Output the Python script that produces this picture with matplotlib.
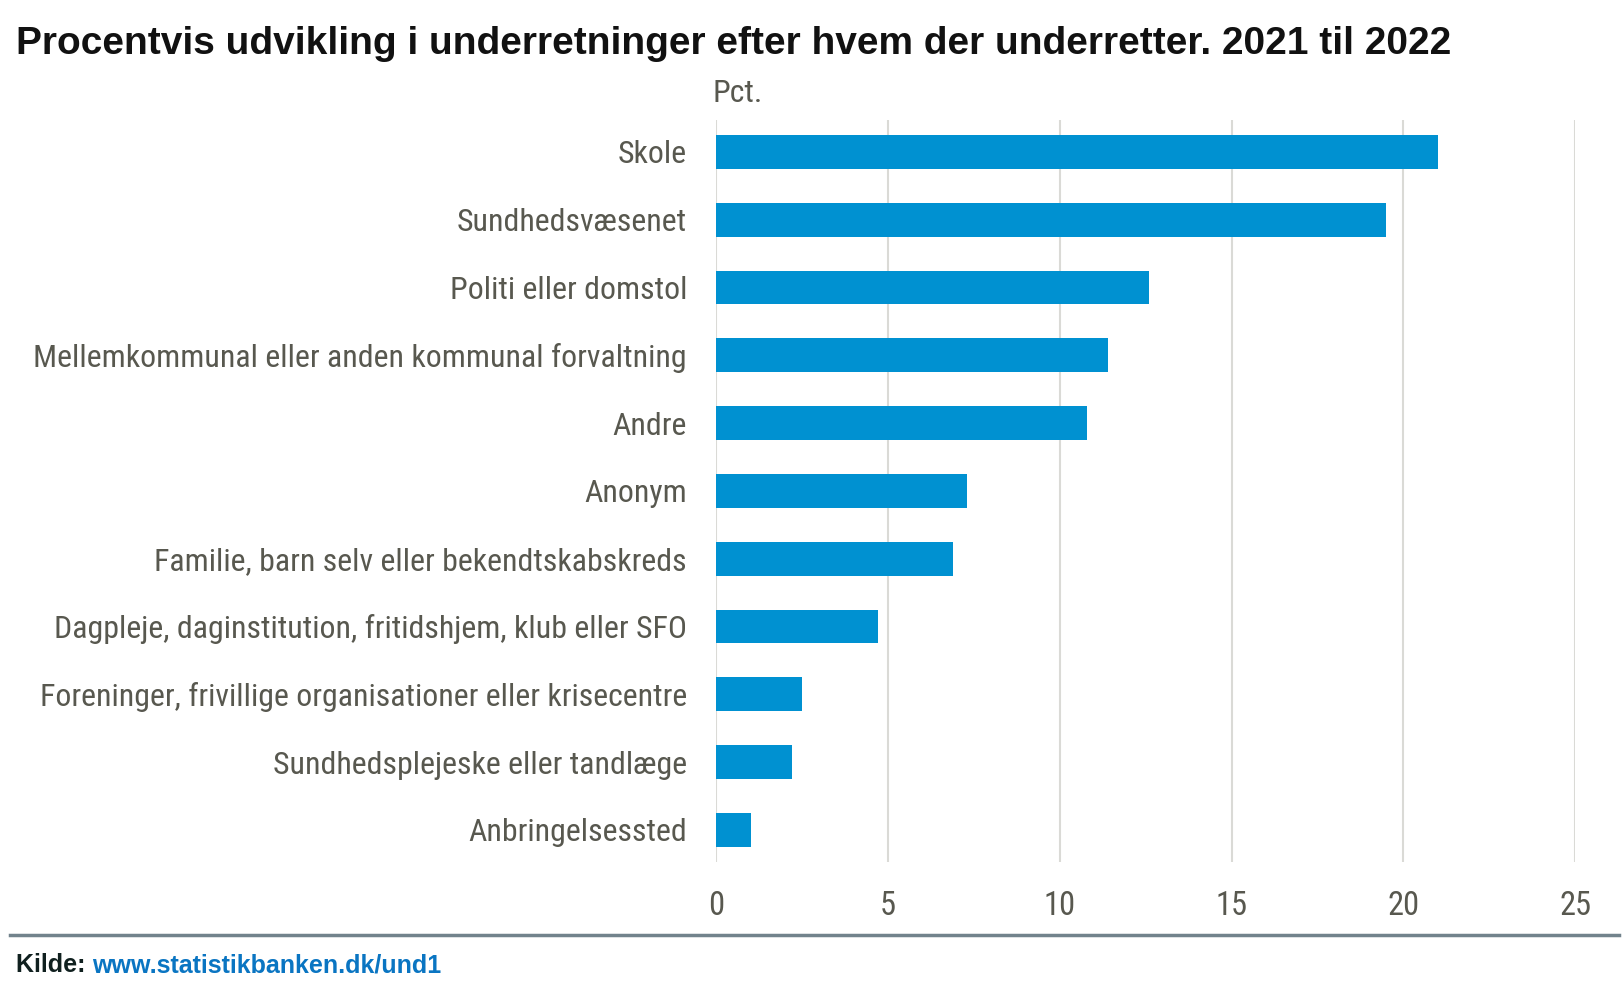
import matplotlib
matplotlib.use("Agg")
import os
import matplotlib.pyplot as plt
from matplotlib import font_manager
from matplotlib.font_manager import FontProperties

# data
categories = [
    "Skole",
    "Sundhedsvæsenet",
    "Politi eller domstol",
    "Mellemkommunal eller anden kommunal forvaltning",
    "Andre",
    "Anonym",
    "Familie, barn selv eller bekendtskabskreds",
    "Dagpleje, daginstitution, fritidshjem, klub eller SFO",
    "Foreninger, frivillige organisationer eller krisecentre",
    "Sundhedsplejeske eller tandlæge",
    "Anbringelsessted",
]
values = [21.0, 19.5, 12.6, 11.4, 10.8, 7.3, 6.9, 4.7, 2.5, 2.2, 1.0]
xticks = [0, 5, 10, 15, 20, 25]

# look for a narrow font, like the Arial Narrow in the original
wanted = ["liberationsansnarrow-regular", "robotocondensed-regular", "dejavusanscondensed.ttf",
          "opensans_condensed-regular", "opensanscondensed-regular"]
files = [f.fname for f in font_manager.fontManager.ttflist]
narrow_path = None
for w in wanted:
    for p in files:
        if w in os.path.basename(p).lower():
            narrow_path = p
            break
    if narrow_path:
        break
print("narrow font:", narrow_path)

bar_color = "#0091d1"
text_gray = "#58584f"
grid_gray = "#dadad6"

fig = plt.figure(figsize=(16.24, 9.86), dpi=100)
renderer = fig.canvas.get_renderer()


def nfont(size):
    if narrow_path:
        return FontProperties(fname=narrow_path, size=size)
    return FontProperties(family="DejaVu Sans", stretch="condensed", size=size)


# size the labels so the longest one is as wide as in the original (~650 px)
probe = fig.text(0, 0, categories[3], fontproperties=nfont(20))
w20 = probe.get_window_extent(renderer).width
probe.remove()
lab_size = 20 * 652 / w20

ax = fig.add_axes([0.441, 0.1257, 0.529, 0.7529])

ypos = list(range(len(categories)))
ax.barh(ypos, values, height=0.5, color=bar_color, zorder=3)

ax.set_xlim(0, 25)
ax.set_ylim(len(categories) - 0.524, -0.476)
ax.set_xticks(xticks)
ax.set_xticklabels([str(t) for t in xticks], fontproperties=nfont(lab_size * 1.02), color=text_gray)
ax.set_yticks(ypos)
ax.set_yticklabels(categories, fontproperties=nfont(lab_size), color=text_gray)
ax.tick_params(axis="x", length=0, pad=20)
ax.tick_params(axis="y", length=0, pad=21)
ax.grid(axis="x", color=grid_gray, linewidth=1.5, zorder=0)
for s in ax.spines.values():
    s.set_visible(False)

fig.text(0.0096, 0.9556, "Procentvis udvikling i underretninger efter hvem der underretter. 2021 til 2022",
         family="Liberation Sans", fontweight="bold", fontsize=28, color="#111111", va="center", ha="left")
fig.text(0.4385, 0.905, "Pct.", fontproperties=nfont(lab_size), color=text_gray, va="center", ha="left")

fig.add_artist(plt.Line2D([0.0064, 0.997], [0.0517, 0.0517], color="#72838c", linewidth=2.5))
t1 = fig.text(0.0096, 0.021, "Kilde: ", family="Liberation Sans", fontweight="bold", fontsize=18,
              color="#10201f", va="center", ha="left")
bb = t1.get_window_extent(renderer)
fig.text(bb.x1 / fig.bbox.width, 0.021, "www.statistikbanken.dk/und1", family="Liberation Sans",
         fontweight="bold", fontsize=18, color="#0a75c2", va="center", ha="left")

fig.savefig("out.png", dpi=100)
